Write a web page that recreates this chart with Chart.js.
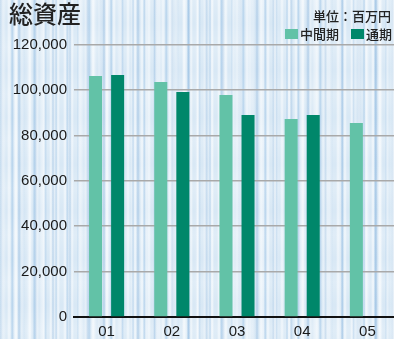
<!DOCTYPE html>
<html>
<head>
<meta charset="utf-8">
<script src="https://cdn.jsdelivr.net/npm/chart.js@4.4.1/dist/chart.umd.min.js"></script>
<style>
  html, body { margin: 0; padding: 0; width: 394px; height: 339px; overflow: hidden; }
  body {
    position: relative;
    background-color: #d8e8f5;
    background-image:
      repeating-linear-gradient(90deg, rgba(255,255,255,0) 0px, rgba(255,255,255,0.6) 2px, rgba(255,255,255,0) 4px, rgba(255,255,255,0) 7px),
      repeating-linear-gradient(90deg, rgba(140,185,225,0) 0px, rgba(140,185,225,0.5) 1px, rgba(140,185,225,0) 3px, rgba(140,185,225,0) 11px),
      repeating-linear-gradient(90deg, rgba(255,255,255,0) 0px, rgba(255,255,255,0.4) 3px, rgba(255,255,255,0) 6px, rgba(255,255,255,0) 13px),
      repeating-linear-gradient(90deg, rgba(110,160,210,0) 0px, rgba(110,160,210,0.35) 2px, rgba(110,160,210,0) 4px, rgba(110,160,210,0) 17px),
      repeating-linear-gradient(180deg, rgba(255,255,255,0.2) 0px, rgba(255,255,255,0) 23px, rgba(255,255,255,0.2) 47px);
  }
  #wrap { position: absolute; left: 0; top: 0; width: 400px; height: 339px; }
  .t { position: absolute; font-family: "Noto Sans CJK JP", sans-serif; color: #222; white-space: nowrap; }
  #title { left: 9px; top: -5px; font-size: 24px; font-weight: 500; }
  #unit { left: 313px; top: 6px; font-size: 13px; font-weight: 500; }
  #legend { position: absolute; left: 285px; top: 24px; font-family: "Noto Sans CJK JP", sans-serif; font-size: 13px; font-weight: 500; color: #222; white-space: nowrap; }
  .lg { display: inline-block; margin-right: 12px; }
  .lg:last-child { margin-right: 0; }
  .sw { display: inline-block; width: 13px; height: 10px; margin-right: 2px; }
</style>
</head>
<body>
<div id="wrap"><canvas id="c"></canvas></div>
<div class="t" id="title">総資産</div>
<div class="t" id="unit">単位：百万円</div>
<div id="legend"></div>
<script>
const categories = ["01", "02", "03", "04", "05"];
const seriesNames = ["中間期", "通期"];
const interimValues = [106200, 103500, 97800, 87200, 85500];
const fullYearValues = [106600, 99100, 89000, 89000, null];
const yTickValues = [0, 20000, 40000, 60000, 80000, 100000, 120000];
const colors = ["#62c2a7", "#00876a"];

const legend = document.getElementById("legend");
seriesNames.forEach((n, i) => {
  const s = document.createElement("span");
  s.className = "lg";
  s.innerHTML = '<span class="sw" style="background:' + colors[i] + '"></span>' + n;
  legend.appendChild(s);
});

new Chart(document.getElementById("c"), {
  type: "bar",
  data: {
    labels: categories,
    datasets: [
      { label: seriesNames[0], data: interimValues, backgroundColor: colors[0], categoryPercentage: 0.677, barPercentage: 0.59 },
      { label: seriesNames[1], data: fullYearValues, backgroundColor: colors[1], categoryPercentage: 0.677, barPercentage: 0.59 }
    ]
  },
  options: {
    responsive: true,
    maintainAspectRatio: false,
    animation: false,
    devicePixelRatio: 1,
    layout: { padding: { left: 0, right: 0, top: 44.6, bottom: 0 } },
    plugins: { legend: { display: false }, tooltip: { enabled: false } },
    scales: {
      x: {
        grid: { display: false, drawTicks: false },
        border: { display: true, color: "#111", width: 2 },
        ticks: { color: "#1a1a1a", font: { family: "Liberation Sans, Arial", size: 15 }, padding: 6 },
        afterFit(s) { s.height = 22; }
      },
      y: {
        min: 0, max: 120000,
        afterBuildTicks(s) { s.ticks = yTickValues.map(v => ({ value: v })); },
        grid: { color: "#a9a9a9", lineWidth: 1.5, drawTicks: false },
        border: { display: false },
        ticks: {
          color: "#1a1a1a",
          font: { family: "Liberation Sans, Arial", size: 15 },
          padding: 7,
          callback: v => v.toLocaleString("en-US")
        },
        afterFit(s) { s.width = 74; }
      }
    }
  }
});
</script>
</body>
</html>
